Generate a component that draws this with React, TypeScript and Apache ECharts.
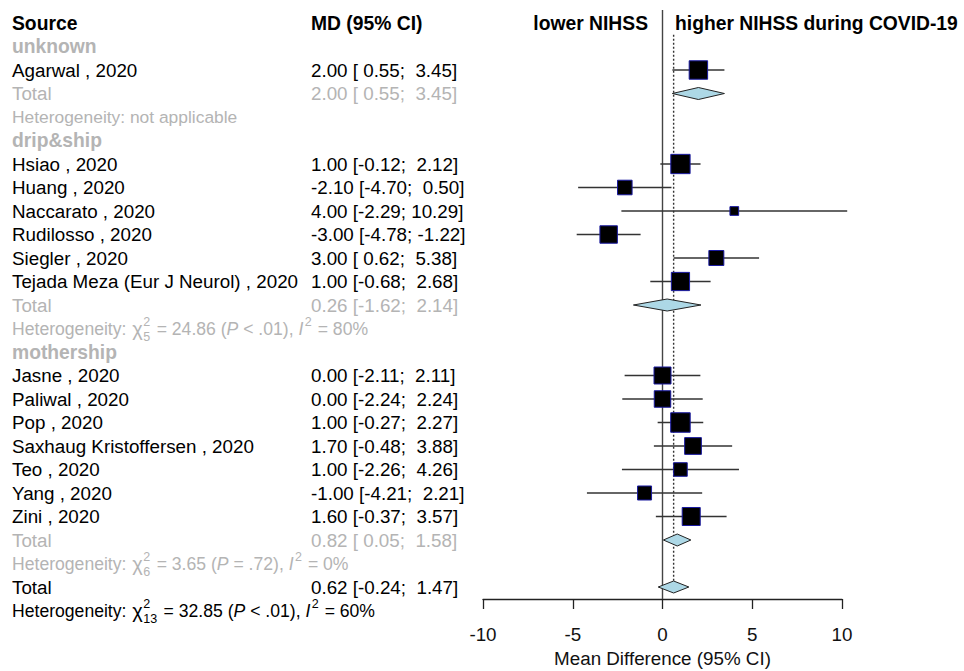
import React, { useEffect, useRef } from "react";
import * as echarts from "echarts";

// ---------- data ----------
const groupNames = ["unknown", "drip&ship", "mothership"];
const studyGroup = [0, 1, 1, 1, 1, 1, 1, 2, 2, 2, 2, 2, 2, 2];
const studies = [
  "Agarwal , 2020",
  "Hsiao , 2020",
  "Huang , 2020",
  "Naccarato , 2020",
  "Rudilosso , 2020",
  "Siegler , 2020",
  "Tejada Meza (Eur J Neurol) , 2020",
  "Jasne , 2020",
  "Paliwal , 2020",
  "Pop , 2020",
  "Saxhaug Kristoffersen , 2020",
  "Teo , 2020",
  "Yang , 2020",
  "Zini , 2020",
];
const md = [2.0, 1.0, -2.1, 4.0, -3.0, 3.0, 1.0, 0.0, 0.0, 1.0, 1.7, 1.0, -1.0, 1.6];
const lower = [0.55, -0.12, -4.7, -2.29, -4.78, 0.62, -0.68, -2.11, -2.24, -0.27, -0.48, -2.26, -4.21, -0.37];
const upper = [3.45, 2.12, 0.5, 10.29, -1.22, 5.38, 2.68, 2.11, 2.24, 2.27, 3.88, 4.26, 2.21, 3.57];
// approximate study weights (%), read from square sizes
const weights = [8.5, 9.3, 5.3, 1.9, 7.6, 5.6, 8.3, 7.2, 6.8, 9.5, 7.0, 4.6, 4.9, 8.1];

const subMd = [2.0, 0.26, 0.82];
const subLower = [0.55, -1.62, 0.05];
const subUpper = [3.45, 2.14, 1.58];
const subQ: (number | null)[] = [null, 24.86, 3.65];
const subDf: (number | null)[] = [null, 5, 6];
const subP: (string | null)[] = [null, "< .01", "= .72"];
const subI2: (number | null)[] = [null, 80, 0];

const overallMd = 0.62;
const overallLower = -0.24;
const overallUpper = 1.47;
const overallQ = 32.85;
const overallDf = 13;
const overallP = "< .01";
const overallI2 = 60;

const xTicks = [-10, -5, 0, 5, 10];
const headerSource = "Source";
const headerMd = "MD (95% CI)";
const labelLeft = "lower NIHSS";
const labelRight = "higher NIHSS during COVID-19";
const xTitle = "Mean Difference (95% CI)";

// ---------- helpers ----------
const FONT = "'Liberation Sans', Arial, sans-serif";
const GRAY = "#b4b4b4";
const F = 18.8;
const FB = 19.3;
const FH = 17.6;
const FS = 12.5;

const fmt = (v: number) => v.toFixed(2);
const ciText = (e: number, l: number, u: number) =>
  `${fmt(e)} [${fmt(l).padStart(5, " ")}; ${fmt(u).padStart(5, " ")}]`;

type Row = {
  row: number;
  kind: string;
  idx: number;
  color: string;
};

const rows: Row[] = [];
(() => {
  let r = 0;
  rows.push({ row: r++, kind: "header", idx: -1, color: "#000" });
  groupNames.forEach((g, gi) => {
    rows.push({ row: r++, kind: "group", idx: gi, color: GRAY });
    studies.forEach((s, si) => {
      if (studyGroup[si] === gi) rows.push({ row: r++, kind: "study", idx: si, color: "#000" });
    });
    rows.push({ row: r++, kind: "subtotal", idx: gi, color: GRAY });
    rows.push({ row: r++, kind: "subhet", idx: gi, color: GRAY });
  });
  rows.push({ row: r++, kind: "total", idx: -1, color: "#000" });
  rows.push({ row: r++, kind: "het", idx: -1, color: "#000" });
})();

const ROW0 = 23;
const ROWH = 23.5;
const GRID_TOP = 10;
const GRID_BOTTOM = 599;
const yMin = (GRID_TOP - ROW0) / ROWH;
const yMax = (GRID_BOTTOM - ROW0) / ROWH;

let measureCtx: CanvasRenderingContext2D | null = null;
function tw(s: string, size: number, style = "normal") {
  if (!measureCtx) measureCtx = document.createElement("canvas").getContext("2d");
  measureCtx!.font = `${style} normal ${size}px ${FONT}`;
  return measureCtx!.measureText(s).width;
}

function txt(text: string, x: number, y: number, color: string, size: number, opts: any = {}) {
  return {
    type: "text",
    style: {
      text,
      x,
      y,
      fill: color,
      fontSize: size,
      fontFamily: FONT,
      fontWeight: opts.weight || "normal",
      fontStyle: opts.style || "normal",
      align: opts.align || "left",
      verticalAlign: "middle",
    },
  };
}

function hetChildren(x: number, y: number, color: string, Q: number | null, df: number | null, p: string | null, I2: number | null) {
  if (Q === null) return [txt("Heterogeneity: not applicable", x, y, color, 17.4)];
  const out: any[] = [];
  let cx = x;
  const add = (s: string, style = "normal", size = FH) => {
    out.push(txt(s, cx, y, color, size, { style }));
    cx += tw(s, size, style);
  };
  add("Heterogeneity: ");
  cx += 1;
  add("\u03c7", "normal", 20);
  cx += 0.5;
  const supW = tw("2", FS);
  const subW = tw(String(df), FS);
  out.push(txt("2", cx, y - 6.5, color, FS));
  out.push(txt(String(df), cx, y + 8.5, color, FS));
  cx += Math.max(supW, subW) + 1.5;
  add(` = ${Q.toFixed(2)} (`);
  add("P", "italic");
  add(` ${p}), `);
  add("I", "italic");
  out.push(txt("2", cx + 1.5, y - 6.5, color, FS));
  cx += supW + 2.5;
  add(` = ${I2}%`);
  return out;
}

// ---------- component ----------
export default function App() {
  const ref = useRef<HTMLDivElement>(null);
  useEffect(() => {
    const chart = echarts.init(ref.current!, undefined, { renderer: "svg" });

    const textSeries = {
      type: "custom",
      coordinateSystem: "cartesian2d",
      data: rows.map((r) => [0, r.row]),
      silent: true,
      renderItem: (params: any, api: any) => {
        const r = rows[params.dataIndex];
        const y = api.coord([0, r.row])[1];
        const x0 = api.coord([0, r.row])[0];
        const xs = 12;
        const xm = 311;
        let children: any[] = [];
        if (r.kind === "header") {
          children = [
            txt(headerSource, xs, y, "#000", FB, { weight: "bold" }),
            txt(headerMd, xm, y, "#000", FB, { weight: "bold" }),
            txt(labelLeft, x0 - 14.5, y, "#000", FB, { weight: "bold", align: "right" }),
            txt(labelRight, x0 + 12.5, y, "#000", FB, { weight: "bold" }),
          ];
        } else if (r.kind === "group") {
          children = [txt(groupNames[r.idx], xs, y, GRAY, FB, { weight: "bold" })];
        } else if (r.kind === "study") {
          const i = r.idx;
          children = [
            txt(studies[i], xs, y, "#000", F),
            txt(ciText(md[i], lower[i], upper[i]), xm, y, "#000", F),
          ];
        } else if (r.kind === "subtotal") {
          const g = r.idx;
          children = [
            txt("Total", xs, y, GRAY, F),
            txt(ciText(subMd[g], subLower[g], subUpper[g]), xm, y, GRAY, F),
          ];
        } else if (r.kind === "subhet") {
          const g = r.idx;
          children = hetChildren(xs, y, GRAY, subQ[g], subDf[g], subP[g], subI2[g]);
        } else if (r.kind === "total") {
          children = [
            txt("Total", xs, y, "#000", F),
            txt(ciText(overallMd, overallLower, overallUpper), xm, y, "#000", F),
          ];
        } else if (r.kind === "het") {
          children = hetChildren(xs, y, "#000", overallQ, overallDf, overallP, overallI2);
        }
        return { type: "group", children };
      },
      z: 5,
    };

    // reference lines: [x, rowStart, rowEnd, dashed]
    const refLines = [
      [0, yMin, yMax, 0],
      [overallMd, 0.5, rows[rows.length - 2].row - 0.26, 1],
    ];
    const refSeries = {
      type: "custom",
      coordinateSystem: "cartesian2d",
      data: refLines,
      silent: true,
      renderItem: (params: any, api: any) => {
        const a = api.coord([api.value(0), api.value(1)]);
        const b = api.coord([api.value(0), api.value(2)]);
        const dashed = api.value(3) === 1;
        return {
          type: "line",
          shape: { x1: a[0], y1: a[1], x2: b[0], y2: b[1] },
          style: dashed
            ? { stroke: "#333", lineWidth: 1.4, lineDash: [2, 2] }
            : { stroke: "#444", lineWidth: 1.4 },
        };
      },
      z: 1,
    };

    const studyRows = rows.filter((r) => r.kind === "study");
    const studySeries = {
      type: "custom",
      coordinateSystem: "cartesian2d",
      data: studyRows.map((r) => [md[r.idx], lower[r.idx], upper[r.idx], r.row, weights[r.idx]]),
      silent: true,
      renderItem: (params: any, api: any) => {
        const row = api.value(3);
        const c = api.coord([api.value(0), row]);
        const l = api.coord([api.value(1), row]);
        const u = api.coord([api.value(2), row]);
        const s = 19.5 * Math.sqrt(api.value(4) / 9.5);
        return {
          type: "group",
          children: [
            {
              type: "line",
              shape: { x1: l[0], y1: c[1], x2: u[0], y2: c[1] },
              style: { stroke: "#333", lineWidth: 1.3 },
            },
            {
              type: "rect",
              shape: { x: c[0] - s / 2, y: c[1] - s / 2, width: s, height: s },
              style: { fill: "#000", stroke: "#1a1aa0", lineWidth: 1 },
            },
          ],
        };
      },
      z: 3,
    };

    const diamondData: number[][] = [];
    rows.forEach((r) => {
      if (r.kind === "subtotal") diamondData.push([subMd[r.idx], subLower[r.idx], subUpper[r.idx], r.row]);
      if (r.kind === "total") diamondData.push([overallMd, overallLower, overallUpper, r.row]);
    });
    const diamondSeries = {
      type: "custom",
      coordinateSystem: "cartesian2d",
      data: diamondData,
      silent: true,
      renderItem: (params: any, api: any) => {
        const row = api.value(3);
        const c = api.coord([api.value(0), row]);
        const l = api.coord([api.value(1), row]);
        const u = api.coord([api.value(2), row]);
        const h = 6;
        return {
          type: "polygon",
          shape: {
            points: [
              [l[0], c[1]],
              [c[0], c[1] - h],
              [u[0], c[1]],
              [c[0], c[1] + h],
            ],
          },
          style: { fill: "#add8e6", stroke: "#222", lineWidth: 1 },
        };
      },
      z: 4,
    };

    chart.setOption({
      animation: false,
      grid: {
        left: 483,
        width: 359,
        top: GRID_TOP,
        height: GRID_BOTTOM - GRID_TOP,
        containLabel: false,
        outerBoundsMode: "none",
      },
      xAxis: {
        type: "value",
        min: xTicks[0],
        max: xTicks[xTicks.length - 1],
        interval: xTicks[1] - xTicks[0],
        position: "bottom",
        axisLine: { show: true, onZero: false, lineStyle: { color: "#222", width: 1.3 } },
        axisTick: { show: true, length: 10, inside: false, lineStyle: { color: "#222", width: 1.3 } },
        axisLabel: { fontSize: F, color: "#111", margin: 26, fontFamily: FONT },
        splitLine: { show: false },
        name: xTitle,
        nameLocation: "middle",
        nameGap: 50,
        nameTextStyle: { fontSize: F, color: "#111", fontFamily: FONT },
      },
      yAxis: {
        type: "value",
        min: yMin,
        max: yMax,
        inverse: true,
        show: false,
        splitLine: { show: false },
      },
      series: [refSeries, studySeries, diamondSeries, textSeries],
    });
    return () => chart.dispose();
  }, []);
  return (
    <div
      ref={ref}
      style={{ position: "fixed", left: 0, top: 0, width: 964, height: 671, background: "#fff" }}
    />
  );
}
